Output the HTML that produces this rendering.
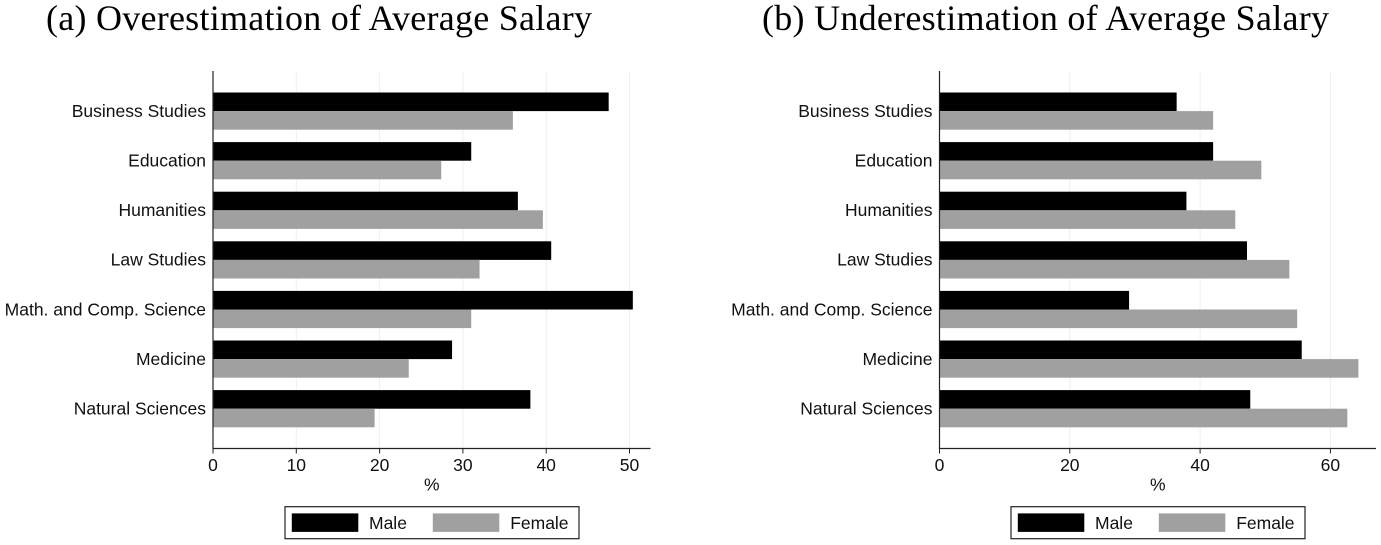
<!DOCTYPE html>
<html lang="en">
<head>
<meta charset="utf-8">
<title>Over- and Underestimation of Average Salary</title>
<style>
html,body{margin:0;padding:0;background:#fff;}
svg{display:block;}
text{font-family:"Liberation Sans",sans-serif;fill:#111;}
.ttl{font-family:"Liberation Serif",serif;font-size:36px;fill:#000;}
</style>
</head>
<body>
<svg id="chart" xmlns="http://www.w3.org/2000/svg" width="1381" height="545" viewBox="0 0 1381 545"></svg>
<script>
const categories = ["Business Studies","Education","Humanities","Law Studies","Math. and Comp. Science","Medicine","Natural Sciences"];
const seriesNames = ["Male","Female"];
const overMale = [47.5,31.0,36.6,40.6,50.4,28.7,38.1];
const overFemale = [36.0,27.4,39.6,32.0,31.0,23.5,19.4];
const underMale = [36.4,42.0,37.9,47.2,29.1,55.6,47.7];
const underFemale = [42.0,49.4,45.4,53.7,54.9,64.3,62.6];
const overTicks = [0,10,20,30,40,50];
const underTicks = [0,20,40,60];
const overTitle = "(a) Overestimation of Average Salary";
const underTitle = "(b) Underestimation of Average Salary";
const xAxisLabel = "%";

const NS = "http://www.w3.org/2000/svg";
const root = document.getElementById('chart');
const MALE = "#000000", FEMALE = "#a0a0a0";
const FONT_SIZE = 17.5;

function make(parent, tag, attrs, txt) {
  const el = document.createElementNS(NS, tag);
  for (const k in attrs) el.setAttribute(k, attrs[k]);
  if (txt !== undefined) el.textContent = txt;
  parent.appendChild(el);
  return el;
}

function drawPanel(cfg) {
  const g = make(root, 'g', {});
  
  
  const xScale = v => cfg.x0 + v * cfg.pxPerUnit;
  const yBand = i => 111.1 + i * 49.6;
  const barH = 18.6, axisY = 448.5, topY = 71;

  const title = make(g, 'text', {x: cfg.titleX, y: 30, class: 'ttl', textLength: cfg.titleW, lengthAdjust: 'spacing'}, cfg.title);
  
  

  cfg.ticks.forEach(t => {
    if (t === 0) return;
    const grid = make(g, 'line', {x1: xScale(t), x2: xScale(t), y1: topY, y2: axisY, stroke: '#eeeeee', 'stroke-width': 1});
    
    
  });

  categories.forEach((c, i) => {
    const y = yBand(i);
    const mBar = make(g, 'rect', {x: cfg.x0, y: y - barH, width: xScale(cfg.male[i]) - cfg.x0, height: barH, fill: MALE});
    
    
    const fBar = make(g, 'rect', {x: cfg.x0, y: y, width: xScale(cfg.female[i]) - cfg.x0, height: barH, fill: FEMALE});
    
    
    const lab = make(g, 'text', {x: cfg.x0 - 7, y: y + 5.8, 'text-anchor': 'end', 'font-size': FONT_SIZE}, c);
    
    
  });

  const yAxis = make(g, 'line', {x1: cfg.x0, x2: cfg.x0, y1: topY, y2: axisY + 0.5, stroke: '#222', 'stroke-width': 1.2});
  
  
  const xAxis = make(g, 'line', {x1: cfg.x0, x2: cfg.xEnd, y1: axisY, y2: axisY, stroke: '#222', 'stroke-width': 1.2});
  
  

  cfg.ticks.forEach(t => {
    const tick = make(g, 'line', {x1: xScale(t), x2: xScale(t), y1: axisY, y2: axisY + 5, stroke: '#222', 'stroke-width': 1});
    
    
    const lab = make(g, 'text', {x: xScale(t), y: 471, 'text-anchor': 'middle', 'font-size': FONT_SIZE}, String(t));
    
    
  });

  const axisTitle = make(g, 'text', {x: (cfg.x0 + cfg.xEnd) / 2, y: 490.5, 'text-anchor': 'middle', 'font-size': FONT_SIZE}, xAxisLabel);
  
  

  const lx = cfg.legendX;
  const legend = make(g, 'g', {});
  
  
  const box = make(legend, 'rect', {x: lx, y: 506.7, width: 294, height: 32, fill: '#fff', stroke: '#222', 'stroke-width': 1.2});
  
  
  const k1 = make(legend, 'rect', {x: lx + 6.8, y: 513.4, width: 66.5, height: 18.5, fill: MALE});
  
  
  const t1 = make(legend, 'text', {x: lx + 84, y: 529, 'font-size': FONT_SIZE}, seriesNames[0]);
  
  
  const k2 = make(legend, 'rect', {x: lx + 147.8, y: 513.4, width: 66.5, height: 18.5, fill: FEMALE});
  
  
  const t2 = make(legend, 'text', {x: lx + 225.2, y: 529, 'font-size': FONT_SIZE}, seriesNames[1]);
  
  
}

drawPanel({name: 'overestimation', title: overTitle, titleX: 46, titleW: 546, x0: 213, xEnd: 650.5, pxPerUnit: 8.33, ticks: overTicks, male: overMale, female: overFemale, legendX: 285});
drawPanel({name: 'underestimation', title: underTitle, titleX: 762, titleW: 567, x0: 939.5, xEnd: 1376, pxPerUnit: 6.515, ticks: underTicks, male: underMale, female: underFemale, legendX: 1011});
</script>
</body>
</html>
